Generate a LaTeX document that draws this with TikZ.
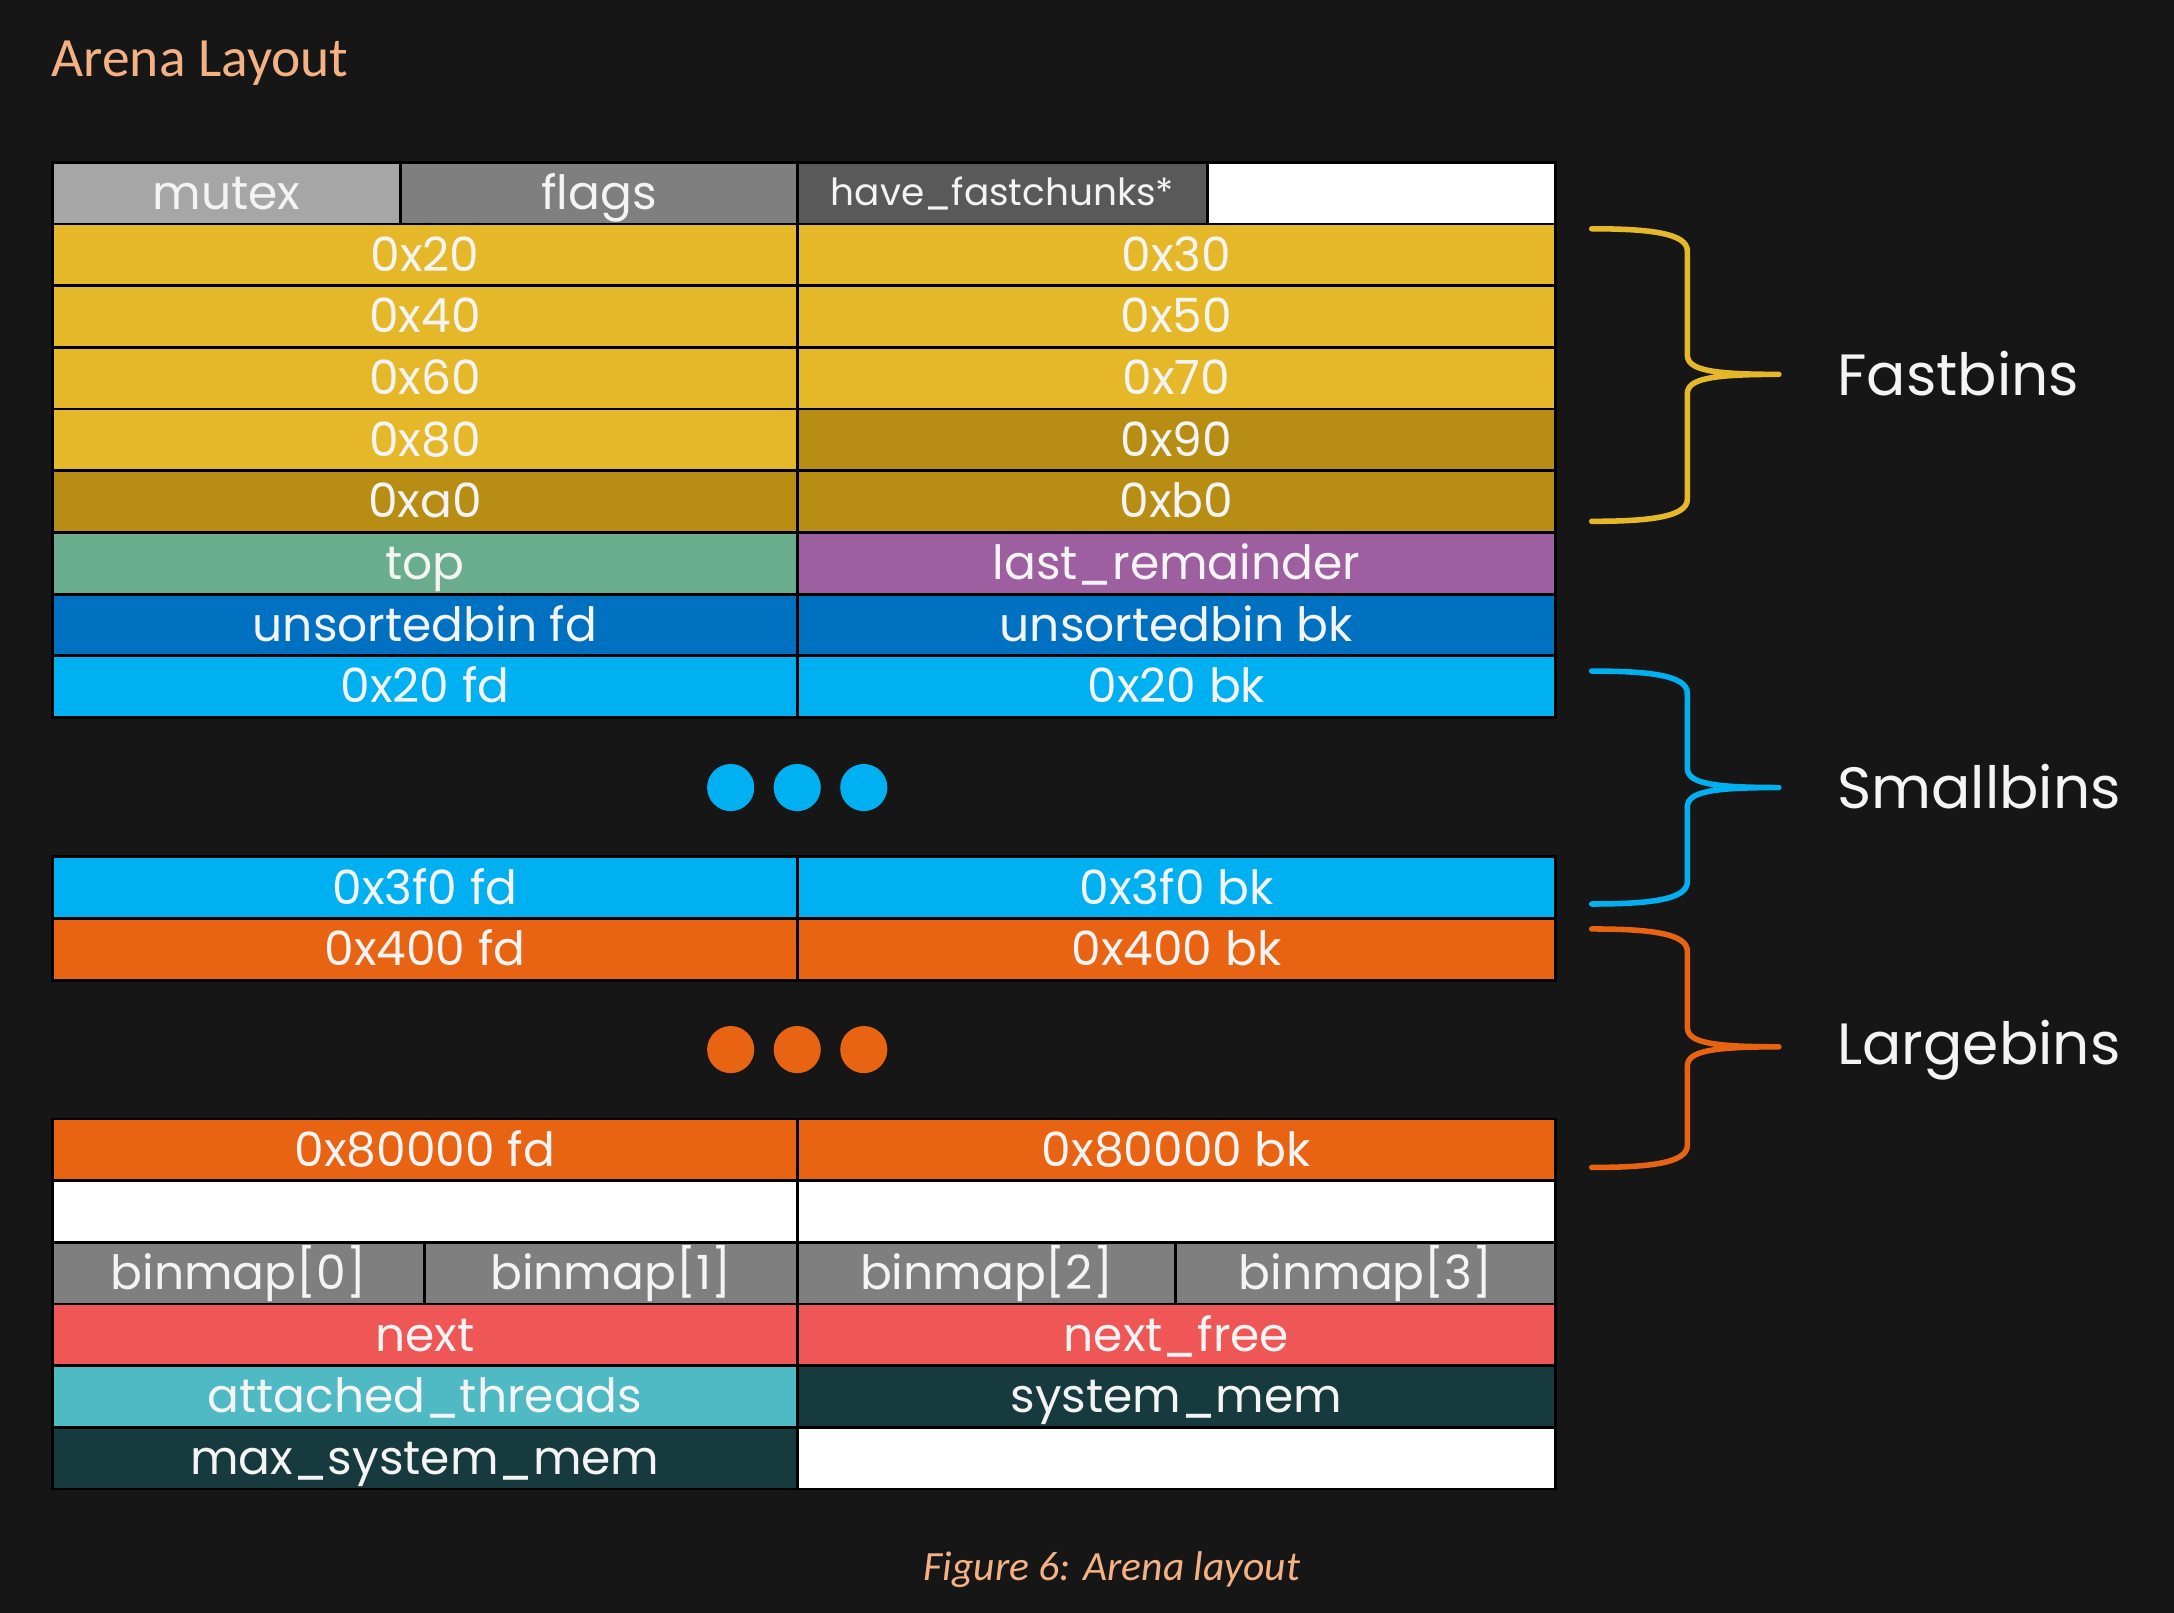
\documentclass[tikz,border=0pt]{standalone}
\usepackage{fontspec}
\setmainfont{Poppins}
\newfontfamily\calib{Carlito}
\definecolor{bgc}{HTML}{161616}
\definecolor{mutexc}{HTML}{A6A6A6}
\definecolor{flagsc}{HTML}{7F7F7F}
\definecolor{havec}{HTML}{595959}
\definecolor{yel}{HTML}{E5B82A}
\definecolor{dyel}{HTML}{B78D14}
\definecolor{topc}{HTML}{6AAD8E}
\definecolor{lastc}{HTML}{9E5FA0}
\definecolor{unsc}{HTML}{0070C0}
\definecolor{lblue}{HTML}{00B0F0}
\definecolor{orng}{HTML}{E86413}
\definecolor{redc}{HTML}{EF5656}
\definecolor{attc}{HTML}{4FB9C4}
\definecolor{dteal}{HTML}{173A3E}
\definecolor{peach}{HTML}{F4B183}
\definecolor{txtc}{HTML}{F4F4F4}
\tikzset{
  cell/.style={draw=black, line width=2pt, inner sep=0pt, outer sep=0pt,
    text=txtc, font=\fontsize{34}{40}\selectfont, text height=23.5pt, text depth=0pt},
  smallcell/.style={cell, font=\fontsize{27}{32}\selectfont, text height=18.5pt},
  brace/.style={line width=4pt, line cap=round, line join=round},
  dot/.style={circle, inner sep=0pt, minimum size=34pt},
  binlabel/.style={anchor=base west, text=txtc, font=\fontsize{42}{50}\selectfont, inner sep=0pt},
}
\newcommand\mkcell[7][cell]{%
  \node[#1, fill=#6, minimum width={(#4-#3)*1pt}, minimum height=44.5pt]
    (#2) at ({(#3+#4)/2},{#5+22.25}) {#7};}
\newcommand\mkbrace[7]{%
  \draw[brace,#7] (#1,#4) .. controls ({#2-28},#4) and (#2,{#4+3}) .. (#2,{#4+16})
    -- (#2,{#6-14}) .. controls (#2,{#6-3}) and ({#2+18},#6) .. (#3,#6)
    .. controls ({#2+18},#6) and (#2,{#6+3}) .. (#2,{#6+14})
    -- (#2,{#5-16}) .. controls (#2,{#5-3}) and ({#2-28},#5) .. (#1,#5);}
\begin{document}
\begin{tikzpicture}[x=1pt,y=-1pt]
\fill[bgc] (0,0) rectangle (1568,1163);
\useasboundingbox (0,0) rectangle (1568,1163);
% title
\node[anchor=base west, inner sep=0pt, text=peach, font=\calib\fontsize{40}{48}\selectfont] (title) at (37,55) {Arena Layout};
% row 0
\mkcell{mutex}{38}{289}{117}{mutexc}{mutex}
\mkcell{flags}{289}{575}{117}{flagsc}{flags}
\mkcell[smallcell]{havefc}{575}{871}{117}{havec}{have\_fastchunks*}
\mkcell{r0w}{871}{1122}{117}{white}{}
% fastbins
\mkcell{f20}{38}{575}{161.5}{yel}{0x20}
\mkcell{f30}{575}{1122}{161.5}{yel}{0x30}
\mkcell{f40}{38}{575}{206}{yel}{0x40}
\mkcell{f50}{575}{1122}{206}{yel}{0x50}
\mkcell{f60}{38}{575}{250.5}{yel}{0x60}
\mkcell{f70}{575}{1122}{250.5}{yel}{0x70}
\mkcell{f80}{38}{575}{295}{yel}{0x80}
\mkcell{f90}{575}{1122}{295}{dyel}{0x90}
\mkcell{fa0}{38}{575}{339.5}{dyel}{0xa0}
\mkcell{fb0}{575}{1122}{339.5}{dyel}{0xb0}
% top / last_remainder
\mkcell{top}{38}{575}{384}{topc}{top}
\mkcell{last}{575}{1122}{384}{lastc}{last\_remainder}
% unsorted
\mkcell{ufd}{38}{575}{428.5}{unsc}{unsortedbin fd}
\mkcell{ubk}{575}{1122}{428.5}{unsc}{unsortedbin bk}
% smallbins
\mkcell{s20fd}{38}{575}{473}{lblue}{0x20 fd}
\mkcell{s20bk}{575}{1122}{473}{lblue}{0x20 bk}
\node[dot, fill=lblue] (sd1) at (527,568) {};
\node[dot, fill=lblue] (sd2) at (575,568) {};
\node[dot, fill=lblue] (sd3) at (623,568) {};
\mkcell{s3f0fd}{38}{575}{618}{lblue}{0x3f0 fd}
\mkcell{s3f0bk}{575}{1122}{618}{lblue}{0x3f0 bk}
% largebins
\mkcell{l400fd}{38}{575}{662.5}{orng}{0x400 fd}
\mkcell{l400bk}{575}{1122}{662.5}{orng}{0x400 bk}
\node[dot, fill=orng] (ld1) at (527,757) {};
\node[dot, fill=orng] (ld2) at (575,757) {};
\node[dot, fill=orng] (ld3) at (623,757) {};
\mkcell{l8fd}{38}{575}{807}{orng}{0x80000 fd}
\mkcell{l8bk}{575}{1122}{807}{orng}{0x80000 bk}
% empty row
\mkcell{e1}{38}{575}{851.5}{white}{}
\mkcell{e2}{575}{1122}{851.5}{white}{}
% binmap
\mkcell{bm0}{38}{306}{896}{flagsc}{binmap[0]}
\mkcell{bm1}{306}{575}{896}{flagsc}{binmap[1]}
\mkcell{bm2}{575}{848}{896}{flagsc}{binmap[2]}
\mkcell{bm3}{848}{1122}{896}{flagsc}{binmap[3]}
% next
\mkcell{next}{38}{575}{940.5}{redc}{next}
\mkcell{nextfree}{575}{1122}{940.5}{redc}{next\_free}
\mkcell{att}{38}{575}{985}{attc}{attached\_threads}
\mkcell{sysmem}{575}{1122}{985}{dteal}{system\_mem}
\mkcell{maxsys}{38}{575}{1029.5}{dteal}{max\_system\_mem}
\mkcell{lastw}{575}{1122}{1029.5}{white}{}
% braces
\mkbrace{1148}{1217}{1283}{165}{376}{270}{yel}
\mkbrace{1148}{1217}{1283}{484}{652}{568}{lblue}
\mkbrace{1148}{1217}{1283}{670}{842}{755}{orng}
\node[binlabel] (fastl) at (1325,285) {Fastbins};
\node[binlabel] (smalll) at (1325,583) {Smallbins};
\node[binlabel] (largel) at (1325,768) {Largebins};
% caption
\node[inner sep=0pt, text=peach, font=\calib\itshape\fontsize{30}{36}\selectfont] (cap) at (802,1132) {Figure 6: Arena layout};
\end{tikzpicture}
\end{document}
